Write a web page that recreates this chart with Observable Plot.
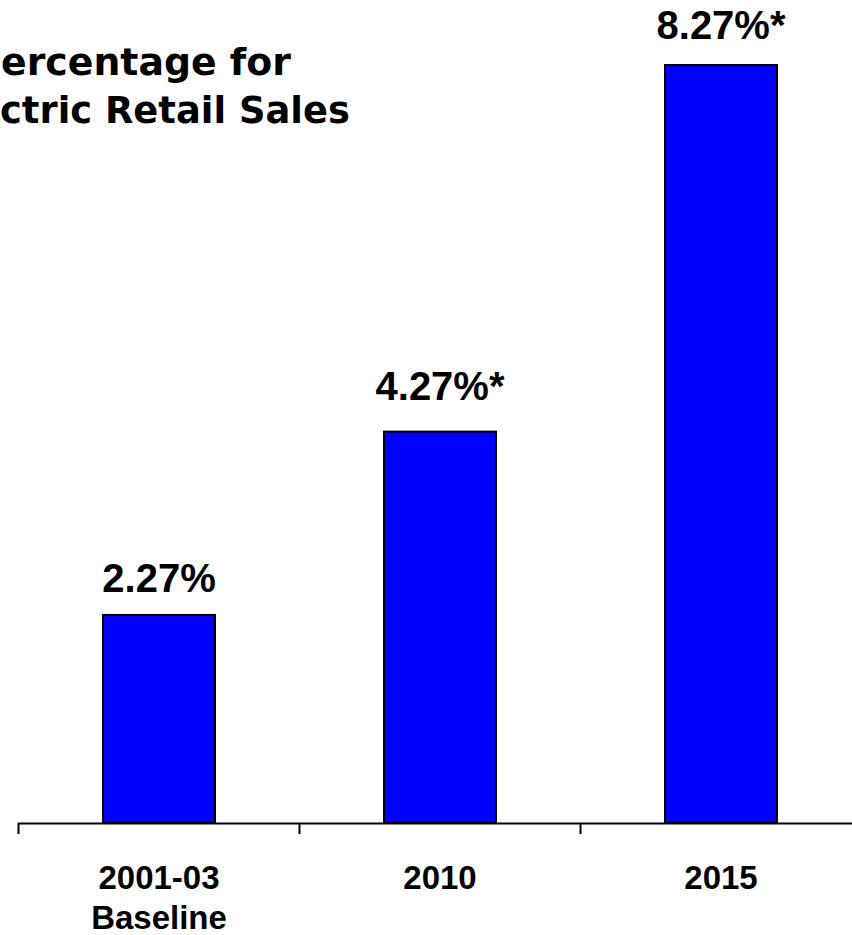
<!DOCTYPE html>
<html>
<head>
<meta charset="utf-8">
<script src="https://cdn.jsdelivr.net/npm/d3@7"></script>
<script src="https://cdn.jsdelivr.net/npm/@observablehq/plot@0.6"></script>
<style>
  html, body { margin: 0; padding: 0; background: #fff; }
  #wrap { position: relative; width: 852px; height: 935px; overflow: hidden; }
  #title { position: absolute; left: 0; top: 0; }
  #chart { position: absolute; left: 0; top: 0; }
</style>
</head>
<body>
<div id="wrap">
  <div id="chart"></div>
  <svg id="title" width="852" height="140" xmlns="http://www.w3.org/2000/svg"></svg>
</div>
<script>
const titleLines = ["ercentage for", "ctric Retail Sales"];
const categories = ["2001-03\nBaseline", "2010", "2015"];
const values = [2.27, 4.27, 8.27];
const valueLabels = ["2.27%", "4.27%*", "8.27%*"];
const tickPositions = [0, 1, 2, 3];

// Title (partially cut off at the left edge, as in the reference)
const titleSvg = d3.select("#title");
const titleSpecs = [{x: 1, y: 75, w: 290}, {x: 0, y: 123, w: 350}];
titleLines.forEach((t, k) => {
  const g = titleSvg.append("g");
  const txt = g.append("text")
    .attr("x", 0).attr("y", 0)
    .attr("font-family", "'DejaVu Sans', Verdana, sans-serif")
    .attr("font-weight", "bold").attr("font-size", 38)
    .attr("fill", "#000")
    .text(t);
  const natural = txt.node().getComputedTextLength() || titleSpecs[k].w;
  const sx = titleSpecs[k].w / natural;
  g.attr("transform", `translate(${titleSpecs[k].x},${titleSpecs[k].y}) scale(${sx},1)`);
});

const data = categories.map((c, i) => ({i, category: c, value: values[i], label: valueLabels[i]}));
const labelOffsets = [-23, -32, -27];
const font = "'Liberation Sans', Arial, sans-serif";

const plot = Plot.plot({
  width: 852,
  height: 935,
  marginTop: 65,
  marginBottom: 112,
  marginLeft: 18,
  marginRight: 0,
  style: {background: "transparent", fontFamily: font},
  x: {domain: [0, 3], range: [18, 861], axis: null},
  y: {domain: [0, 8.27], axis: null},
  marks: [
    Plot.rectY(data, {
      x1: d => d.i, x2: d => d.i + 1, y1: 0, y2: "value",
      insetLeft: 85, insetRight: 84,
      fill: "#0000FF", stroke: "#000", strokeWidth: 2
    }),
    Plot.ruleY([0], {stroke: "#000", strokeWidth: 2}),
    Plot.axisX(tickPositions, {anchor: "bottom", tickSize: 11, tickFormat: () => "", stroke: "#000", strokeWidth: 2}),
    ...data.map((d, k) => Plot.text([d], {
      x: d => d.i + 0.5, y: "value", text: "label",
      fontSize: 40, fontWeight: "bold", fill: "#000",
      textAnchor: "middle", lineAnchor: "bottom", dy: labelOffsets[k]
    })),
    Plot.text(data, {
      x: d => d.i + 0.5, text: "category", frameAnchor: "bottom",
      fontSize: 33, fontWeight: "bold", fill: "#000",
      textAnchor: "middle", lineAnchor: "top", lineHeight: 1.24, dy: 36
    })
  ]
});
document.getElementById("chart").appendChild(plot);
</script>
</body>
</html>
